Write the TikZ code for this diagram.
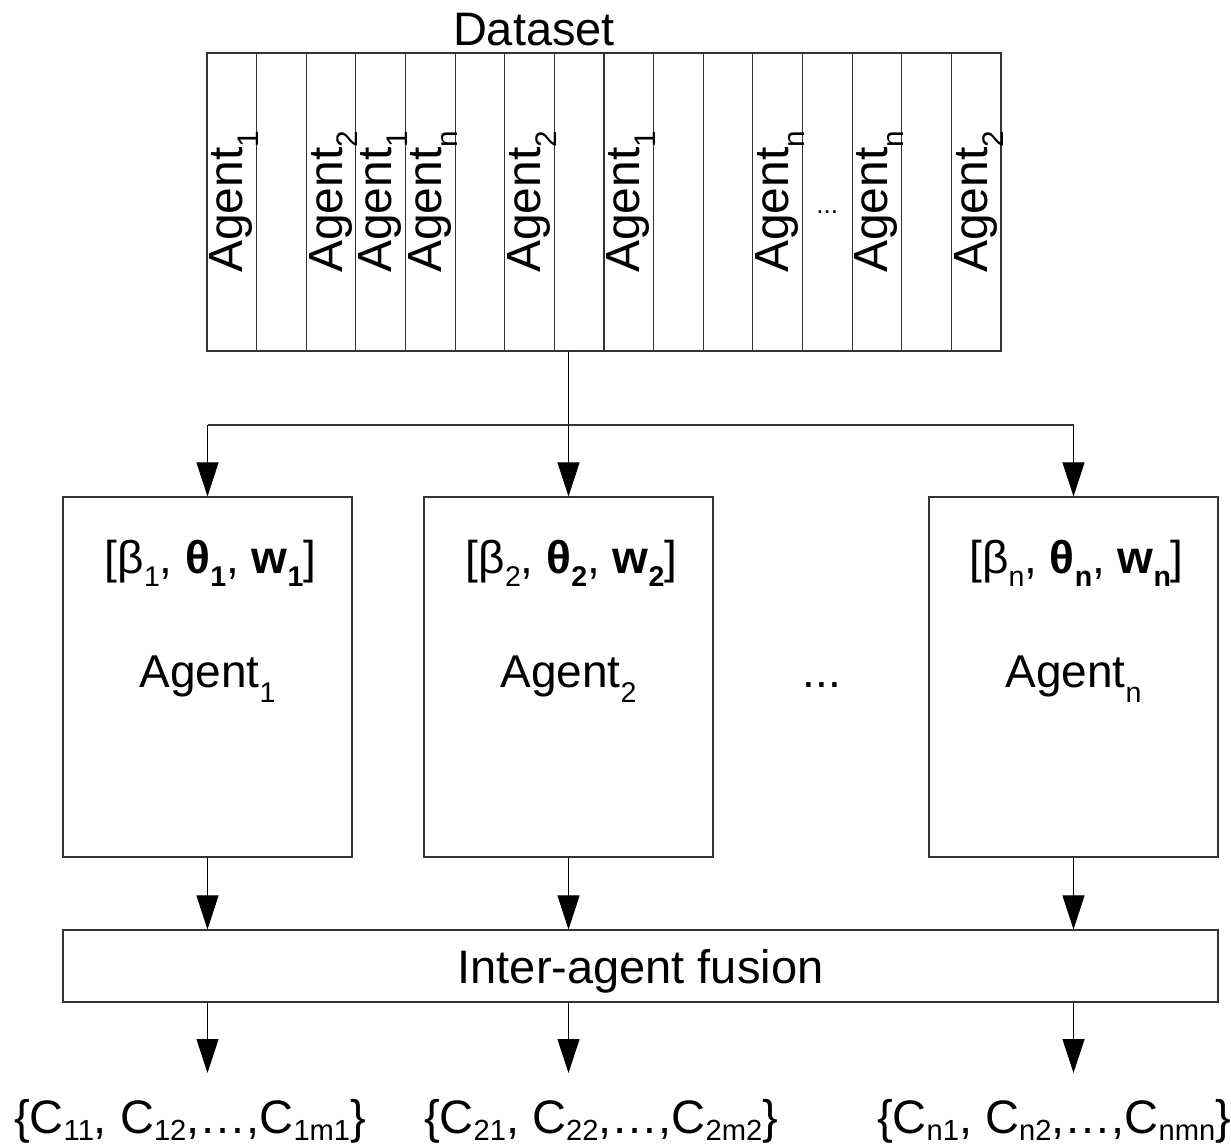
\documentclass[tikz,border=0pt]{standalone}
\usepackage{fontspec}
\usepackage{graphicx}
\setmainfont{Liberation Sans}
\usetikzlibrary{arrows.meta,calc}
% lowered, smaller subscript in text mode (optional drop)
\newcommand\lo[2][0.33em]{\raisebox{-#1}{\scalebox{0.62}{#2}}}
\newcommand\lb[1]{\lo[0.15em]{#1}}
\begin{document}
\begin{tikzpicture}[x=1pt,y=-1pt,
  edge/.style={draw=black,line width=1.1pt},
  arr/.style={edge,-{Triangle[length=34pt,width=22pt,fill=black]}},
  cell/.style={draw=black!80,line width=1.2pt,minimum width=49.625pt,minimum height=298pt,inner sep=0pt},
  box/.style={draw=black!80,line width=1.2pt,minimum width=289pt,minimum height=360pt,inner sep=0pt},
  big/.style={font=\fontsize{47}{56}\selectfont},
  mid/.style={font=\fontsize{46}{54}\selectfont},
  vlab/.style={rotate=90,anchor=base,inner sep=0pt,font=\fontsize{48}{56}\selectfont},
]
\useasboundingbox (0,0) rectangle (1231,1146);

% dataset strip: sixteen cells
\foreach \i in {1,...,16}{
  \node[cell] (c\i) at ({207+49.625*(\i-0.5)},202) {};
}
\node[big,anchor=base,inner sep=0pt] (ds) at (534,45) {Dataset};

% labels of the cells, rotated
\foreach \i/\s in {1/1,3/2,4/1,5/n,7/2,9/1,12/n,14/n,16/2}{
  \node[vlab] (l\i) at ($(c\i.center)+(11,0)$) {Agent\lo{\s}};
}
\node[font=\fontsize{26}{30}\selectfont,inner sep=0pt,anchor=base] (l13) at ($(c13.center)+(0,11)$) {...};

% agent boxes
\node[box] (a1) at (207.5,677) {};
\node[box] (a2) at (568.5,677) {};
\node[box] (a3) at (1073.5,677) {};

\foreach \k/\s in {1/1,2/2,3/n}{
  \node[mid,anchor=base,inner sep=0pt] (p\k) at ($(a\k.center)+(3,-104)$)
    {[β\lo[0.3em]{\s}, \textbf{θ\lo[0.3em]{\s}}, \textbf{w\lo[0.3em]{\s}}]};
  \node[mid,anchor=base,inner sep=0pt] (n\k) at ($(a\k.center)+(0,10)$) {Agent\lo{\s}};
}
\node[mid,anchor=base,inner sep=0pt] (dots) at (822,687) {...};

% fusion box
\node[draw=black!80,line width=1.2pt,minimum width=1155pt,minimum height=72pt,inner sep=0pt] (fu) at (640.5,966) {};
\node[big,anchor=base,inner sep=0pt] (fut) at (640.5,983) {Inter-agent fusion};

% resulting cluster sets
\node[big,anchor=base,inner sep=0pt] (o1) at (190,1133) {\{C\lb{11}, C\lb{12},…,C\lb{1m1}\}};
\node[big,anchor=base,inner sep=0pt] (o2) at (601,1133) {\{C\lb{21}, C\lb{22},…,C\lb{2m2}\}};
\node[big,anchor=base,inner sep=0pt] (o3) at (1054,1133) {\{C\lb{n1}, C\lb{n2},…,C\lb{nmn}\}};

% distribution from the dataset to the agents
\coordinate (split) at (568.5,425);
\draw[edge] (c8.south -| split) -- (split);
\draw[edge,draw=black!80] (a1.north |- split) -- (a3.north |- split);
\draw[arr] (a1.north |- split) -- (a1.north);
\draw[arr] (split) -- (a2.north);
\draw[arr] (a3.north |- split) -- (a3.north);

% agents to fusion
\draw[arr] (a1.south) -- (a1.south |- fu.north);
\draw[arr] (a2.south) -- (a2.south |- fu.north);
\draw[arr] (a3.south) -- (a3.south |- fu.north);

% fusion to outputs
\coordinate (t1) at (207.5,1073);
\coordinate (t2) at (568.5,1073);
\coordinate (t3) at (1073.5,1073);
\draw[arr] (fu.south -| t1) -- (t1);
\draw[arr] (fu.south -| t2) -- (t2);
\draw[arr] (fu.south -| t3) -- (t3);
\end{tikzpicture}
\end{document}
